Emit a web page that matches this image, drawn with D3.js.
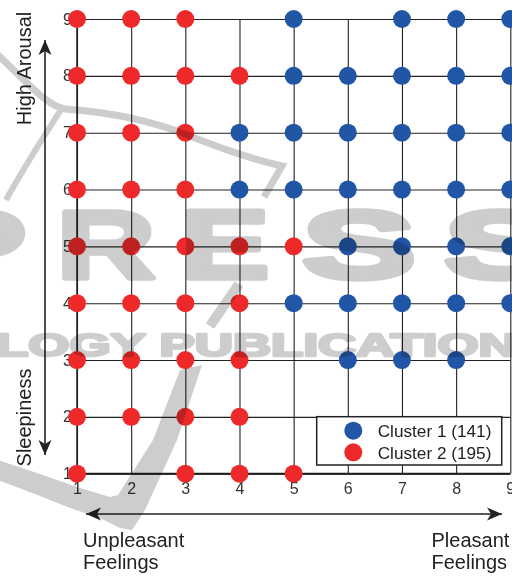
<!DOCTYPE html>
<html><head><meta charset="utf-8">
<script src="https://cdn.jsdelivr.net/npm/d3@7"></script>
<style>html,body{margin:0;padding:0;background:#fff;} svg{display:block;}</style>
</head><body><svg id="c" width="512" height="578"></svg>
<script>
// ---- data ----
const tickValues = [1, 2, 3, 4, 5, 6, 7, 8, 9];
const tickLabels = ["1", "2", "3", "4", "5", "6", "7", "8", "9"];
// [valence, arousal]
const cluster1 = [
  [5,9],[7,9],[8,9],[9,9],
  [5,8],[6,8],[7,8],[8,8],[9,8],
  [4,7],[5,7],[6,7],[7,7],[8,7],[9,7],
  [4,6],[5,6],[6,6],[7,6],[8,6],[9,6],
  [6,5],[7,5],[8,5],[9,5],
  [5,4],[6,4],[7,4],[8,4],[9,4],
  [6,3],[7,3],[8,3]
];
const cluster2 = [
  [1,9],[2,9],[3,9],
  [1,8],[2,8],[3,8],[4,8],
  [1,7],[2,7],[3,7],
  [1,6],[2,6],[3,6],
  [1,5],[2,5],[3,5],[4,5],[5,5],
  [1,4],[2,4],[3,4],[4,4],
  [1,3],[2,3],[3,3],[4,3],
  [1,2],[2,2],[3,2],[4,2],
  [1,1],[3,1],[4,1],[5,1]
];
const seriesNames = ["Cluster 1 (141)", "Cluster 2 (195)"];
const seriesColors = ["#2156a6", "#ee2929"];
const yTitles = ["High Arousal", "Sleepiness"];
const xTitles = [["Unpleasant", "Feelings"], ["Pleasant", "Feelings"]];

// ---- drawing ----
const svg = d3.select("#c");
const font = "'Liberation Sans', Arial, Helvetica, sans-serif";
const ink = "#222";
svg.append("rect").attr("width", 512).attr("height", 578).attr("fill", "#fff");

const x = d3.scaleLinear().domain([1, 9]).range([77, 510.3]);
const y = d3.scaleLinear().domain([1, 9]).range([473.7, 19]);

// horizontal grid + y labels
const gy = svg.append("g").attr("transform", `translate(${x(1)},0)`)
  .call(d3.axisLeft(y).tickValues(tickValues).tickFormat((d, i) => tickLabels[i])
    .tickSize(-(x(9) - x(1))).tickPadding(5));
gy.select(".domain").remove();
gy.selectAll("line").attr("stroke", ink).attr("stroke-width", 1.1);
gy.selectAll("text").attr("font-family", font).attr("font-size", 16).attr("fill", "#333");

// vertical grid + x labels
const gx = svg.append("g").attr("transform", `translate(0,${y(1)})`)
  .call(d3.axisBottom(x).tickValues(tickValues).tickFormat((d, i) => tickLabels[i])
    .tickSize(-(y(1) - y(9))).tickPadding(9));
gx.select(".domain").remove();
gx.selectAll("line").attr("stroke", ink).attr("stroke-width", 1.1);
gx.selectAll("text").attr("font-family", font).attr("font-size", 16).attr("fill", "#333");

// frame emphasis
svg.append("line").attr("x1", x(1)).attr("x2", x(9)).attr("y1", y(1)).attr("y2", y(1))
  .attr("stroke", ink).attr("stroke-width", 2);
svg.append("line").attr("x1", x(1)).attr("x2", x(1)).attr("y1", y(9)).attr("y2", y(1))
  .attr("stroke", ink).attr("stroke-width", 1.5);

// points
const r = 9;
svg.append("g").selectAll("circle").data(cluster2).join("circle")
  .attr("cx", d => x(d[0])).attr("cy", d => y(d[1])).attr("r", r).attr("fill", seriesColors[1]);
svg.append("g").selectAll("circle").data(cluster1).join("circle")
  .attr("cx", d => x(d[0])).attr("cy", d => y(d[1])).attr("r", r).attr("fill", seriesColors[0]);

// legend
const lg = svg.append("g");
lg.append("rect").attr("x", 316.7).attr("y", 416.7).attr("width", 185).attr("height", 48.3)
  .attr("fill", "#fff").attr("stroke", ink).attr("stroke-width", 1.5);
seriesNames.forEach((name, i) => {
  const cy = 430.7 + i * 21.6;
  lg.append("circle").attr("cx", 353.3).attr("cy", cy).attr("r", r).attr("fill", seriesColors[i]);
  lg.append("text").attr("x", 377.7).attr("y", cy + 6.3).attr("font-family", font)
    .attr("font-size", 17.2).attr("fill", ink).text(name);
});

// arrows
const defs = svg.append("defs");
defs.append("marker").attr("id", "ah").attr("viewBox", "-15 -7 16 14")
  .attr("refX", 0).attr("refY", 0).attr("markerWidth", 16).attr("markerHeight", 14)
  .attr("markerUnits", "userSpaceOnUse").attr("orient", "auto-start-reverse")
  .append("path").attr("d", "M0,0 L-15,-6.5 L-11,0 L-15,6.5 Z").attr("fill", ink);
svg.append("line").attr("x1", 45).attr("x2", 45).attr("y1", 40).attr("y2", 455)
  .attr("stroke", ink).attr("stroke-width", 1.6)
  .attr("marker-start", "url(#ah)").attr("marker-end", "url(#ah)");
svg.append("line").attr("x1", 86).attr("x2", 502).attr("y1", 514).attr("y2", 514)
  .attr("stroke", ink).attr("stroke-width", 1.6)
  .attr("marker-start", "url(#ah)").attr("marker-end", "url(#ah)");

// axis titles
[[yTitles[0], 68.5], [yTitles[1], 417.5]].forEach(([t, cy]) => {
  svg.append("text").attr("transform", `translate(31,${cy}) rotate(-90)`)
    .attr("text-anchor", "middle").attr("font-family", font).attr("font-size", 20)
    .attr("fill", ink).text(t);
});
[[xTitles[0], 83], [xTitles[1], 431.5]].forEach(([lines, lx]) => {
  lines.forEach((t, i) => {
    svg.append("text").attr("x", lx).attr("y", 546.7 + i * 21.8)
      .attr("font-family", font).attr("font-size", 20).attr("fill", ink).text(t);
  });
});

// publisher watermark (multiplied on top)
const wmGray = "#cdcdcd";
const wm = svg.append("g").style("mix-blend-mode", "multiply").attr("fill", wmGray);
const wmFont = "'Liberation Sans', Arial, sans-serif";
const wmLetters = [["P", -72, 98], ["R", 57, 98], ["E", 181, 88], ["S", 302, 114], ["S", 444, 114]];
wmLetters.forEach(([ch, lx, w]) => {
  wm.append("text").attr("x", lx).attr("y", 278).attr("font-family", wmFont)
    .attr("font-weight", "bold").attr("font-size", 96)
    .attr("stroke", wmGray).attr("stroke-width", 5.5).attr("stroke-linejoin", "round")
    .attr("textLength", w).attr("lengthAdjust", "spacingAndGlyphs").text(ch);
});
wm.append("text").attr("x", -4).attr("y", 356).attr("font-family", wmFont)
  .attr("font-weight", "bold").attr("font-size", 32)
  .attr("stroke", wmGray).attr("stroke-width", 2.5).attr("stroke-linejoin", "round")
  .attr("textLength", 556).attr("lengthAdjust", "spacingAndGlyphs").text("LOGY PUBLICATIONS");
// check mark
wm.append("path").attr("d",
  "M202,365 L177,440 L145,510 L132,530 L120,528 L100,518 L70,508 L40,496 L-2,480 L-2,460 L40,474 L80,488 L110,497 L118,495 L153,440 L180,370 Z");
const sw = wm.append("g").attr("fill", "none").attr("stroke", wmGray).attr("stroke-linecap", "butt");
sw.append("path").attr("d", "M210,326 L239,284").attr("stroke-width", 10);
sw.append("path").attr("d", "M-2,55 C25,80 45,105 65,109 C110,112 150,120 190,136 C225,150 255,160 282,166 L264,197")
  .attr("stroke-width", 7).attr("stroke-linejoin", "miter");
sw.append("path").attr("d", "M62,108 C45,135 25,165 6,200").attr("stroke-width", 6);
</script>
</body></html>
